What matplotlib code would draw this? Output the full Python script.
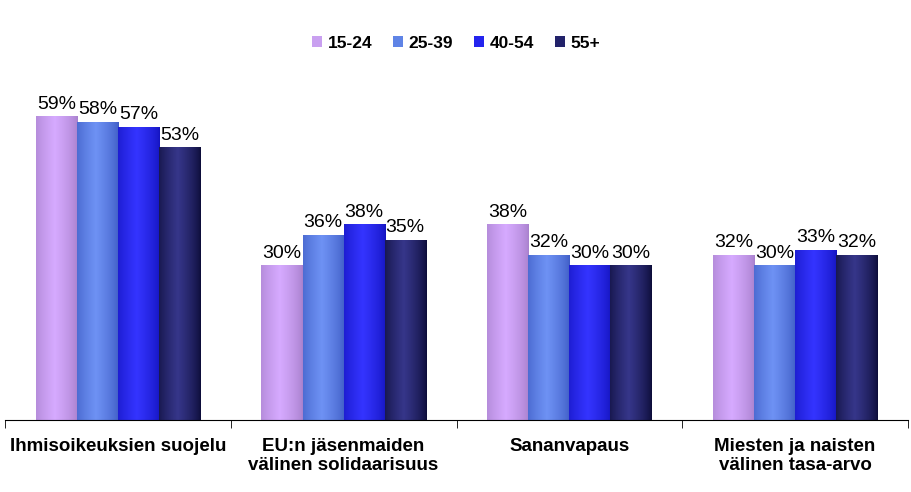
import matplotlib
matplotlib.use("Agg")
import matplotlib.pyplot as plt
import numpy as np
from matplotlib.colors import to_rgb
from matplotlib.patches import Patch

categories = ["Ihmisoikeuksien suojelu", "EU:n jäsenmaiden\nvälinen solidaarisuus",
              "Sananvapaus", "Miesten ja naisten\nvälinen tasa-arvo"]
series_names = ["15-24", "25-39", "40-54", "55+"]
v_15_24 = [59, 30, 38, 32]
v_25_39 = [58, 36, 32, 30]
v_40_54 = [57, 38, 30, 33]
v_55 = [53, 35, 30, 32]
values = [v_15_24, v_25_39, v_40_54, v_55]

# (edge, center) colours for the shaded bars
edge_cols = ["#A880CC", "#3E5CC4", "#1414C0", "#0C0C38"]
center_cols = ["#D6AAFF", "#6E92F4", "#3434FF", "#36368A"]
legend_cols = ["#C9A0F0", "#5F84E6", "#2424EE", "#22226A"]

plt.rcParams["font.family"] = ["Liberation Sans", "DejaVu Sans"]
fig = plt.figure(figsize=(9.12, 4.92), dpi=100)
ax = fig.add_axes([5 / 912, 72 / 492, 903 / 912, 339 / 492])

x = np.arange(len(categories))
bw = 0.182
for i, (name, vals) in enumerate(zip(series_names, values)):
    bars = ax.bar(x + (i - 1.5) * bw, vals, bw, color="none", edgecolor="none", label=name)
    e = np.array(to_rgb(edge_cols[i]))
    c = np.array(to_rgb(center_cols[i]))
    t = np.linspace(0, 1, 64)
    w = np.clip(1 - np.abs(t - 0.45) / 0.55, 0, 1) ** 0.7
    grad = (e[None, :] * (1 - w[:, None]) + c[None, :] * w[:, None])[None, :, :]
    for b, v in zip(bars, vals):
        ax.imshow(grad, extent=[b.get_x(), b.get_x() + b.get_width(), 0, b.get_height()],
                  aspect="auto", zorder=2, interpolation="bilinear")
        ax.annotate(f"{v}%", (b.get_x() + b.get_width() / 2, b.get_height()),
                    xytext=(0, 3), textcoords="offset points", ha="center", va="bottom",
                    fontsize=14, color="black")

ax.set_xlim(-0.5, len(categories) - 0.5)
ax.set_ylim(0, 66)
for s in ["top", "right", "left"]:
    ax.spines[s].set_visible(False)
ax.spines["bottom"].set_color("black")
ax.set_yticks([])
ax.set_xticks(x)
ax.set_xticklabels(categories, fontsize=13.5, fontweight="bold", linespacing=1.15)
ax.tick_params(axis="x", which="major", length=0, pad=13)
ax.set_xticks(np.arange(-0.5, len(categories), 1), minor=True)
ax.tick_params(axis="x", which="minor", length=6, direction="out", color="black")

handles = [Patch(facecolor=c, edgecolor="none") for c in legend_cols]
fig.legend(handles, series_names, loc="center", bbox_to_anchor=(456 / 912, 1 - 43 / 492),
           ncol=4, frameon=False, prop={"weight": "bold", "size": 12.5},
           handlelength=0.6, handleheight=0.6, handletextpad=0.3, columnspacing=1.2)

fig.savefig("out.png", dpi=100)
